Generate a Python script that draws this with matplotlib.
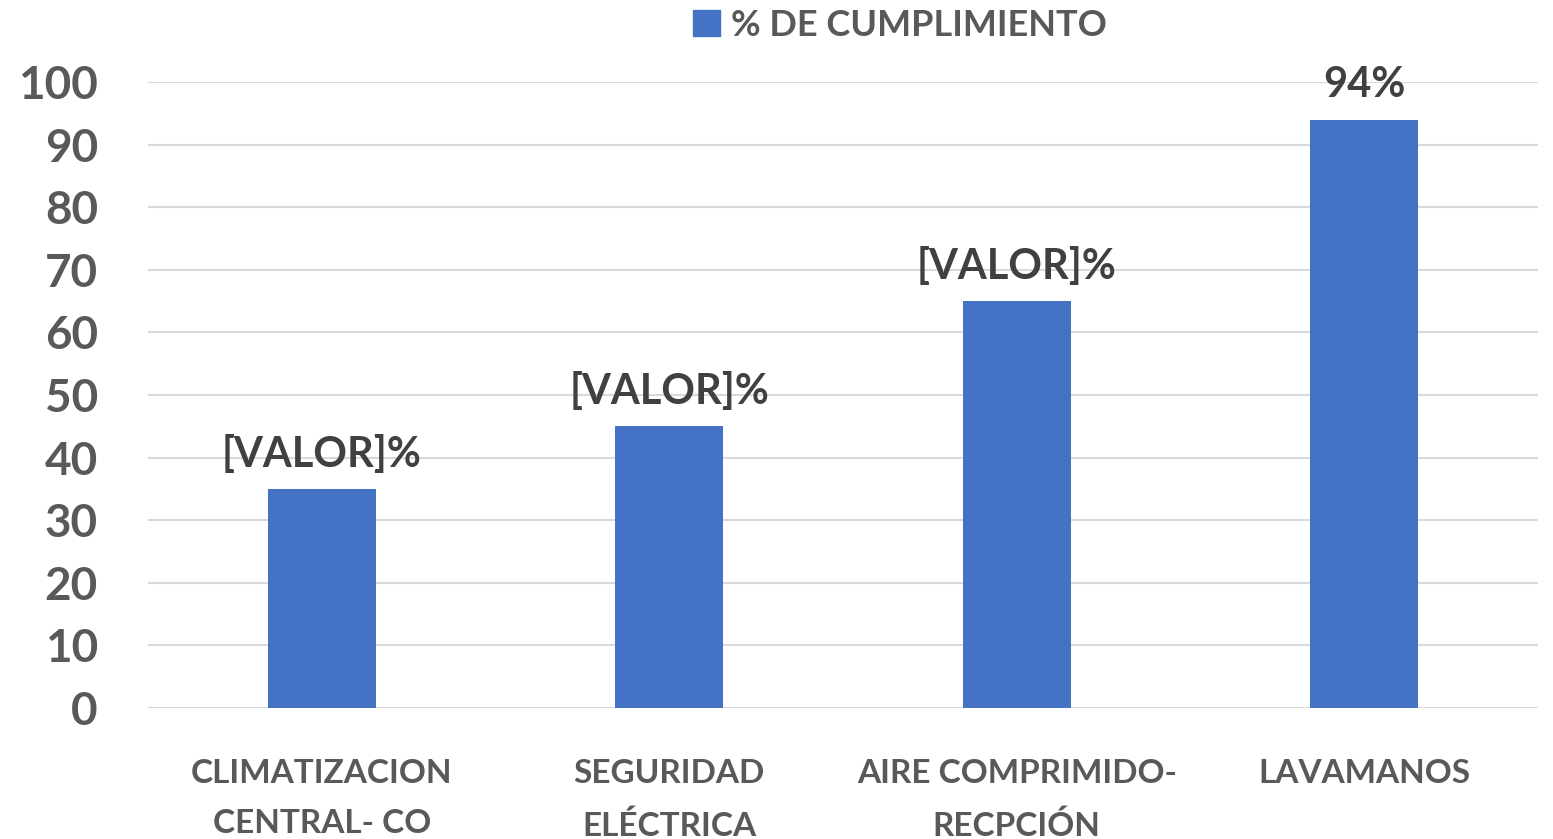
import matplotlib.pyplot as plt
from matplotlib.patches import Patch

categories = ['CLIMATIZACION\nCENTRAL- CO', 'SEGURIDAD\nELÉCTRICA',
              'AIRE COMPRIMIDO-\nRECPCIÓN', 'LAVAMANOS']
values = [35, 45, 65, 94]
bar_labels = ['[VALOR]%', '[VALOR]%', '[VALOR]%', '94%']
series_name = '% DE CUMPLIMIENTO'

plt.rcParams['font.family'] = ['Lato', 'DejaVu Sans']
plt.rcParams['font.weight'] = 'bold'

fig = plt.figure(figsize=(15.53, 8.39), dpi=100)
ax = fig.add_axes([148 / 1553, 131 / 839, 1390 / 1553, 626 / 839])

x = range(len(categories))
ax.bar(x, values, width=0.31, color='#4472C4', zorder=2)

for xi, v, lab in zip(x, values, bar_labels):
    ax.annotate(lab, (xi, v), xytext=(0, 11), textcoords='offset points',
                ha='center', va='bottom', fontsize=30, color='#404040',
                fontweight='bold', zorder=3)

ax.set_xlim(-0.5, len(categories) - 0.5)
ax.set_ylim(0, 100)
ax.set_yticks(range(0, 101, 10))
ax.set_xticks(list(x))
ax.set_xticklabels(categories, fontsize=24, color='#595959',
                   fontweight='bold', linespacing=1.85)
ax.tick_params(axis='x', length=0, pad=37)
ax.tick_params(axis='y', length=0, pad=36, labelsize=33, labelcolor='#595959')
for t in ax.get_yticklabels():
    t.set_fontweight('bold')

ax.grid(axis='y', color='#d9d9d9', linewidth=1.5, zorder=0)
for s in ax.spines.values():
    s.set_visible(False)

handle = Patch(color='#4472C4')
fig.legend([handle], [series_name], loc='center', bbox_to_anchor=(900 / 1553, 1 - 25 / 839),
           frameon=False, labelcolor='#595959', handlelength=0.75,
           handleheight=0.75, handletextpad=0.3, prop={'weight': 'bold', 'size': 26})

fig.savefig('out.png', dpi=100)
